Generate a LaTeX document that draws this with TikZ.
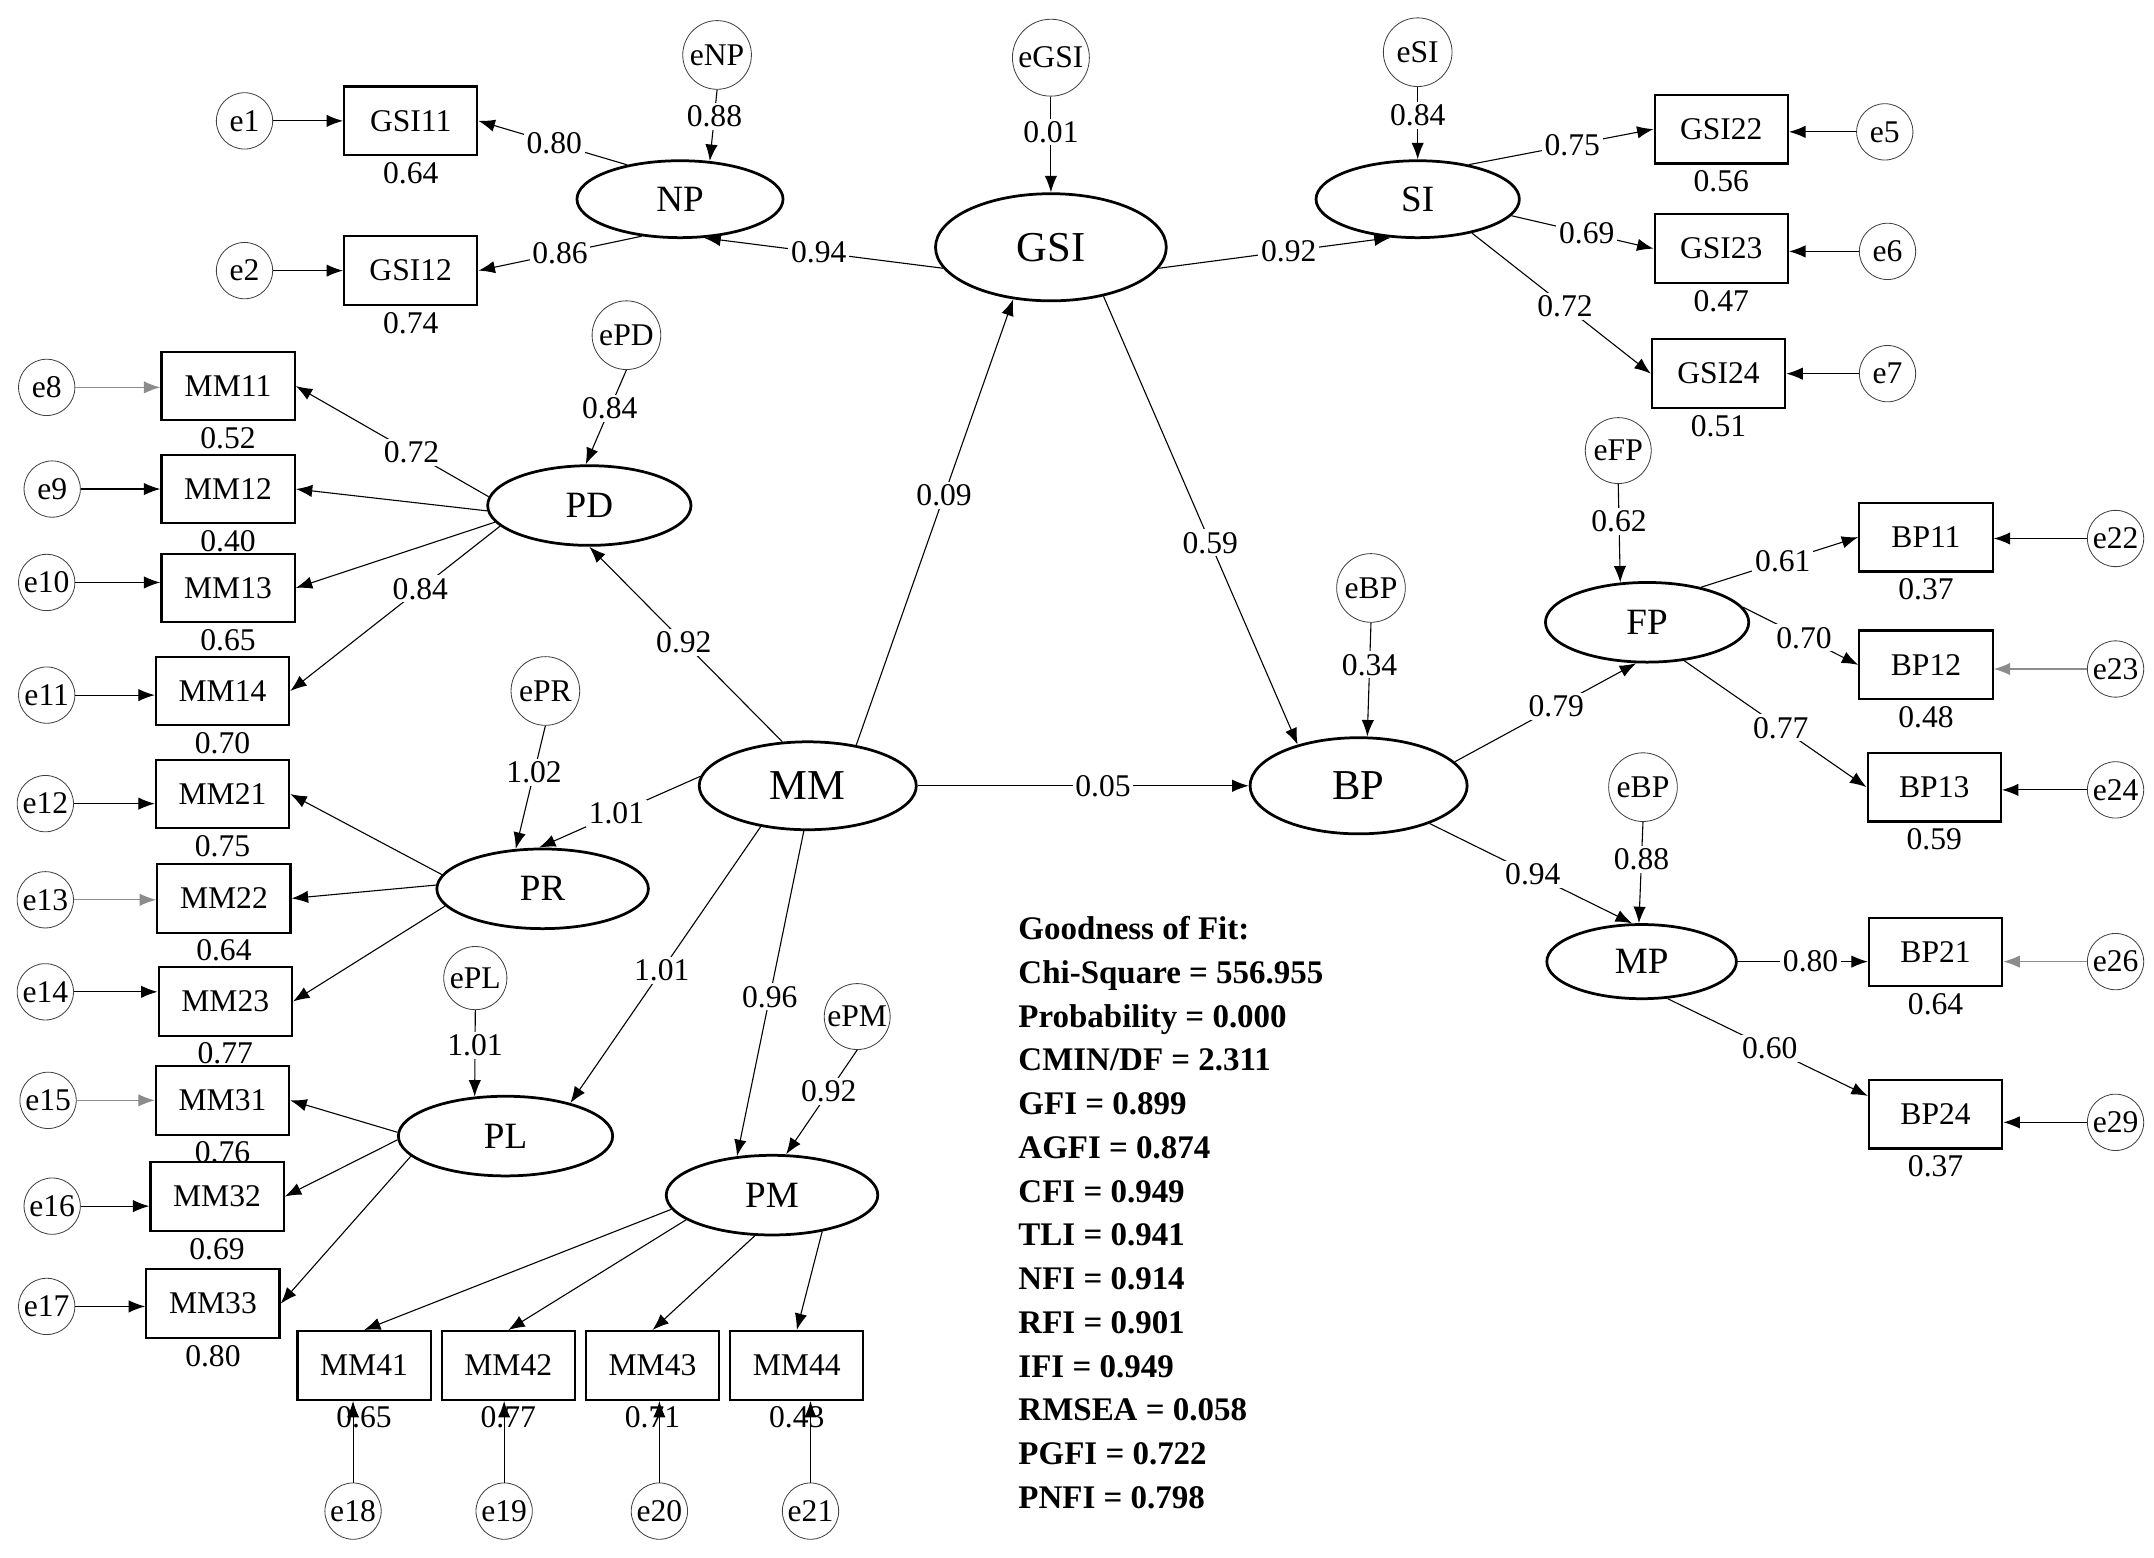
\documentclass[tikz,border=0pt]{standalone}
\usepackage{fontspec}
\setmainfont{Liberation Serif}
\usetikzlibrary{arrows.meta,shapes.geometric,positioning}
\tikzstyle{latent}=[ellipse,draw,line width=1pt,inner sep=0pt,font=\fontsize{13.5}{15}\selectfont]
\tikzstyle{big latent}=[latent,font=\fontsize{15.5}{17}\selectfont]
\tikzstyle{obs}=[rectangle,draw,line width=0.8pt,minimum width=48.5pt,minimum height=25pt,inner sep=0pt,font=\fontsize{11.5}{13}\selectfont]
\tikzstyle{err}=[circle,draw=black!75,line width=0.3pt,minimum size=20.5pt,inner sep=0pt,font=\fontsize{11.5}{13}\selectfont]
\tikzstyle{disturb}=[err]
\tikzstyle{link}=[draw,line width=0.4pt,-{Latex[length=6pt,width=4.5pt]}]
\tikzstyle{faint link}=[link,draw=black!45]
\tikzstyle{coef}=[fill=white,inner sep=1pt,font=\fontsize{11.5}{13}\selectfont]
\tikzstyle{rsq}=[inner sep=0pt,font=\fontsize{11.5}{13}\selectfont]
\tikzstyle{gof}=[anchor=base west,inner sep=0pt,font=\fontsize{12}{14}\selectfont\bfseries]

\begin{document}
\begin{tikzpicture}[x=0.5pt,y=-0.5pt]
    \useasboundingbox (0,0) rectangle (1568,1134);
    % Latent variables
    \foreach \pos/\name/\w/\h in {{(765,180)/GSI/84/39}, {(588,572)/MM/79/32}, {(989,572)/BP/79/35}}
        \node[big latent,minimum width=\w pt,minimum height=\h pt] (\name) at \pos {\name};
    \foreach \pos/\name/\w/\h in {{(495,145)/NP/75/28}, {(1032,145)/SI/74/28}, {(429,368)/PD/74/29}, {(395,647)/PR/77/29},
        {(368,827)/PL/78/29}, {(562,870)/PM/77/29}, {(1199,453)/FP/74/29}, {(1195,700)/MP/69/27}}
        \node[latent,minimum width=\w pt,minimum height=\h pt] (\name) at \pos {\name};

    % Disturbances
    \foreach \pos/\name/\txt/\d in {{(522,40)/eNP/eNP/25}, {(765,42)/eGSI/eGSI/28}, {(1032,38)/eSI/eSI/25}, {(456,244)/ePD/ePD/25},
        {(397,503)/ePR/ePR/25}, {(346,712)/ePL/ePL/23}, {(624,740)/ePM/ePM/24}, {(998,428)/eBP/eBP/25},
        {(1178,328)/eFP/eFP/24}, {(1196,573)/eBPb/eBP/25}}
        \node[disturb,minimum size=\d pt] (\name) at \pos {\txt};

    % Observed items with squared multiple correlations
    \foreach \pos/\name/\rsq in {{(299,88)/GSI11/0.64}, {(299,197)/GSI12/0.74}, {(1253,94)/GSI22/0.56}, {(1253,181)/GSI23/0.47},
        {(1251,272)/GSI24/0.51}, {(166,281)/MM11/0.52}, {(166,356)/MM12/0.40}, {(166,428)/MM13/0.65}, {(162,503)/MM14/0.70},
        {(162,578)/MM21/0.75}, {(163,654)/MM22/0.64}, {(164,729)/MM23/0.77}, {(162,801)/MM31/0.76}, {(158,871)/MM32/0.69},
        {(155,949)/MM33/0.80}, {(265,994)/MM41/0.65}, {(370,994)/MM42/0.77}, {(475,994)/MM43/0.71}, {(580,994)/MM44/0.43},
        {(1402,391)/BP11/0.37}, {(1402,484)/BP12/0.48}, {(1408,573)/BP13/0.59}, {(1409,693)/BP21/0.64}, {(1409,811)/BP24/0.37}}
    {
        \node[obs] (\name) at \pos {\name};
        \node[rsq,below=2pt of \name] {\rsq};
    }

    % Error terms
    \foreach \pos/\name in {{(178,88)/e1}, {(178,197)/e2}, {(1372,96)/e5}, {(1374,183)/e6}, {(1374,272)/e7},
        {(34,282)/e8}, {(38,356)/e9}, {(34,424)/e10}, {(34,506)/e11}, {(33,585)/e12}, {(33,655)/e13}, {(33,722)/e14},
        {(35,801)/e15}, {(38,878)/e16}, {(34,951)/e17}, {(257,1100)/e18}, {(367,1100)/e19}, {(480,1100)/e20}, {(590,1100)/e21},
        {(1540,392)/e22}, {(1540,487)/e23}, {(1540,575)/e24}, {(1540,700)/e26}, {(1540,817)/e29}}
        \node[err] (\name) at \pos {\name};

    % Paths with estimates
    \foreach \source/\dest/\weight/\p in {eNP.south/NP.52/0.88/0.37, NP.147/GSI11.east/0.80/0.49, NP.224/GSI12.east/0.86/0.5,
        GSI.191/NP.302/0.94/0.52, eGSI.south/GSI.north/0.01/0.37, GSI.349/SI.235/0.92/0.56, eSI.south/SI.north/0.84/0.39,
        SI.34/GSI22.west/0.75/0.56, SI.350/GSI23.west/0.69/0.53, SI.328/GSI24.west/0.72/0.52,
        GSI.317/BP.146/0.59/0.55, MM.40/GSI.234/0.09/0.56, MM.east/BP.west/0.05/0.56, eBP.south/BP.80/0.34/0.37,
        MM.120/PD.south/0.92/0.51, ePD.south/PD.95/0.84/0.41, PD.175/MM11.east/0.72/0.40, PD.193/MM14.east/0.84/0.38,
        MM.175/PR.95/1.01/0.52, ePR.south/PR.124/1.02/0.38, MM.221/PL.27/1.01/0.52, MM.265/PM.132/0.96/0.51,
        ePL.south/PL.128/1.01/0.41, ePM.south/PM.71/0.92/0.40,
        BP.14/FP.255/0.79/0.56, eFP.south/FP.124/0.62/0.38, FP.33/BP11.west/0.61/0.52, FP.9/BP12.west/0.70/0.53,
        FP.314/BP13.west/0.77/0.53, BP.332/MP.104/0.94/0.51, eBPb.south/MP.94/0.88/0.37,
        MP.east/BP21.west |- MP.east/0.80/0.56, MP.305/BP24.165/0.60/0.51}
        \path[link] (\source) -- node[coef,pos=\p] {\weight} (\dest);

    % Paths without estimates
    \foreach \source/\dest in {PD.183/MM12.east, PD.190/MM13.east, PR.172/MM21.east, PR.178/MM22.east, PR.190/MM23.east,
        PL.178/MM31.east, PL.182/MM32.east, PL.192/MM33.east,
        PM.188/MM41.north, PM.196/MM42.north, PM.247/MM43.north, PM.324/MM44.north}
        \path[link] (\source) -- (\dest);

    % Error arrows
    \foreach \e/\ind in {e1/GSI11, e2/GSI12, e9/MM12, e10/MM13, e11/MM14, e12/MM21, e14/MM23, e16/MM32, e17/MM33}
        \path[link] (\e) -- (\ind.west |- \e);
    \foreach \e/\ind in {e8/MM11, e13/MM22, e15/MM31}
        \path[faint link] (\e) -- (\ind.west |- \e);
    \foreach \e/\ind in {e5/GSI22, e6/GSI23, e7/GSI24, e22/BP11, e24/BP13, e29/BP24}
        \path[link] (\e) -- (\ind.east |- \e);
    \foreach \e/\ind in {e23/BP12, e26/BP21}
        \path[faint link] (\e) -- (\ind.east |- \e);
    \foreach \e/\ind in {e18/MM41, e19/MM42, e20/MM43, e21/MM44}
        \path[link] (\e.north) -- (\e.north |- \ind.south);

    % Fit indices
    \foreach \txt [count=\i] in {Goodness of Fit:, Chi-Square = 556.955, Probability = 0.000, CMIN/DF = 2.311,
        GFI = 0.899, AGFI = 0.874, CFI = 0.949, TLI = 0.941, NFI = 0.914, RFI = 0.901, IFI = 0.949,
        RMSEA = 0.058, PGFI = 0.722, PNFI = 0.798}
        \node[gof] (gof\i) at (741,{684+31.85*(\i-1)}) {\txt};
\end{tikzpicture}
\end{document}
